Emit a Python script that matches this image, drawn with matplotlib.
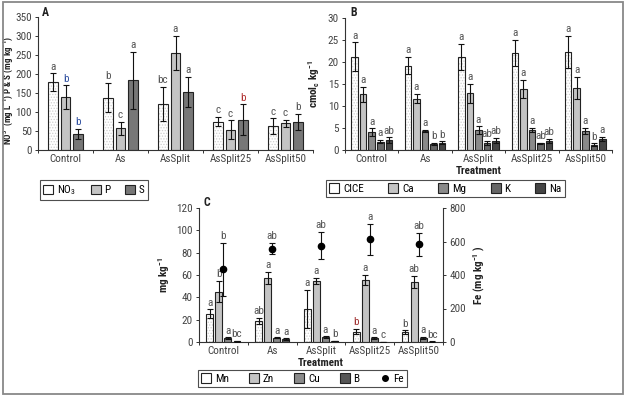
import matplotlib
matplotlib.use("Agg")
import matplotlib.pyplot as plt
import matplotlib.font_manager as fm
import numpy as np
from matplotlib.patches import Patch, Rectangle
from matplotlib.lines import Line2D

# pick a condensed sans if one is installed
_entries = fm.fontManager.ttflist
_cond = sorted({f.name for f in _entries if ("Narrow" in f.name or "Condensed" in f.name)
                and f.weight in (400, "normal", "regular")})
_stretch = sorted({f.name for f in _entries if str(f.stretch) in ("condensed", "semi-condensed", "extra-condensed")})
FAM = None
for pref in ["Liberation Sans Narrow", "Roboto Condensed", "Open Sans Condensed", "Noto Sans Condensed"]:
    if pref in _cond:
        FAM = pref
        break
if FAM is None and _cond:
    FAM = _cond[0]
STRETCH = "normal"
if FAM is None and _stretch:
    FAM = _stretch[0]
    STRETCH = "condensed"
if FAM is None:
    FAM = "Liberation Sans"
    SCALE = 0.82
else:
    SCALE = 1.0
plt.rcParams['font.family'] = [FAM, 'Liberation Sans', 'DejaVu Sans']
plt.rcParams['font.stretch'] = STRETCH
plt.rcParams['mathtext.fontset'] = 'custom'
plt.rcParams['mathtext.rm'] = FAM
plt.rcParams['mathtext.it'] = FAM
plt.rcParams['mathtext.bf'] = FAM + ':bold'
plt.rcParams['mathtext.sf'] = FAM
plt.rcParams['mathtext.default'] = 'regular'
plt.rcParams['hatch.linewidth'] = 0.6

treatments = ["Control", "As", "AsSplit", "AsSplit25", "AsSplit50"]

# Panel A
a_series = ["NO$_3$", "P", "S"]
a_vals = [[178, 138, 122, 75, 62],
          [139, 57, 256, 53, 70],
          [43, 184, 153, 80, 74]]
a_errs = [[24, 39, 45, 13, 21],
          [31, 18, 45, 25, 10],
          [13, 75, 40, 40, 21]]
a_lets = [["a", "b", "bc", "c", "c"],
          ["b", "c", "a", "c", "c"],
          ["b", "a", "a", "b", "b"]]
a_letcol = [["#555", "#555", "#555", "#555", "#555"],
            ["#3050a0", "#555", "#555", "#555", "#555"],
            ["#3050a0", "#555", "#555", "#b03030", "#555"]]

# Panel B
b_series = ["CICE", "Ca", "Mg", "K", "Na"]
b_vals = [[21.2, 19.2, 21.2, 22.1, 22.3],
          [12.7, 11.7, 12.9, 13.9, 14.2],
          [4.0, 4.3, 4.5, 4.6, 4.3],
          [1.9, 1.4, 1.6, 1.5, 1.2],
          [2.3, 1.7, 2.1, 2.1, 2.5]]
b_errs = [[3.3, 2.0, 3.0, 2.9, 3.7],
          [1.7, 1.0, 2.2, 2.0, 2.5],
          [0.9, 0.3, 0.9, 0.4, 0.7],
          [0.4, 0.2, 0.5, 0.1, 0.3],
          [0.6, 0.3, 0.6, 0.5, 0.5]]
b_lets = [["a", "a", "a", "a", "a"],
          ["a", "a", "a", "a", "a"],
          ["a", "a", "a", "a", "a"],
          ["a", "b", "ab", "ab", "b"],
          ["ab", "b", "ab", "ab", "a"]]

# Panel C
c_series = ["Mn", "Zn", "Cu", "B"]
c_vals = [[25.5, 19.0, 29.5, 9.2, 8.8],
          [45.0, 57.6, 54.8, 55.5, 53.5],
          [3.5, 3.8, 4.4, 3.7, 3.6],
          [0.6, 2.6, 1.0, 0.3, 0.4]]
c_errs = [[3.8, 2.6, 17.0, 2.4, 1.6],
          [9.5, 5.5, 2.5, 4.8, 5.5],
          [0.6, 0.4, 0.8, 0.6, 1.0],
          [0.2, 0.6, 0.3, 0.1, 0.2]]
c_lets = [["a", "ab", "a", "b", "b"],
          ["b", "a", "a", "a", "ab"],
          ["a", "a", "a", "a", "a"],
          ["bc", "a", "b", "c", "bc"]]
fe_vals = [434, 558, 576, 612, 583]
fe_errs = [160, 35, 80, 95, 68]
fe_lets = ["b", "ab", "ab", "a", "ab"]

W, H = 627, 397
fig = plt.figure(figsize=(W / 100, H / 100), dpi=100)

def axrect(x0, y0, x1, y1):
    return [x0 / W, 1 - y1 / H, (x1 - x0) / W, (y1 - y0) / H]

LETC = "#555555"
FS = 8.0 * SCALE
fills = {
    0: dict(fc="white", hatch="......", hc="#cfcfcf"),
    1: dict(fc="#c4c4c4"),
    2: dict(fc="#8a8a8a"),
    3: dict(fc="#666666"),
    4: dict(fc="#444444"),
}

def draw_bar(ax, x, v, w, style, ec="#222"):
    if "hatch" in style:
        ax.bar(x, v, w, color="white", edgecolor=style["hc"], hatch=style["hatch"], lw=0, zorder=2)
        ax.bar(x, v, w, fill=False, edgecolor=ec, lw=0.8, zorder=3)
    else:
        ax.bar(x, v, w, color=style["fc"], edgecolor=ec, lw=0.8, zorder=2)

def style_ax(ax, ymax, step):
    for s in ["top", "right"]:
        ax.spines[s].set_visible(False)
    for s in ["left", "bottom"]:
        ax.spines[s].set_color("#333")
        ax.spines[s].set_linewidth(0.8)
    ax.set_xlim(-0.5, 4.5)
    ax.set_ylim(0, ymax)
    ax.set_yticks(np.arange(0, ymax + step / 2, step))
    ax.set_xticks(np.arange(-0.5, 5, 1.0))
    ax.set_xticklabels([])
    ax.set_xticks(np.arange(5), minor=True)
    ax.set_xticklabels(treatments, minor=True)
    ax.tick_params(axis="x", which="major", length=2.5, width=0.7, color="#333")
    ax.tick_params(axis="x", which="minor", length=0, labelsize=FS, labelcolor="#444", pad=3)
    ax.tick_params(axis="y", length=2.5, width=0.7, color="#333", labelsize=FS, labelcolor="#444", pad=2)

def letter(ax, x, y, t, c=LETC):
    ax.annotate(t, (x, y), xytext=(0, 1.2), textcoords="offset points",
                ha="center", va="bottom", fontsize=FS, color=c, zorder=5)

def errb(ax, x, v, e):
    ax.errorbar(x, v, yerr=e, fmt="none", ecolor="#111", elinewidth=0.8, capsize=2.2, capthick=0.8, zorder=4)

# ---- A
axA = fig.add_axes(axrect(38, 17, 313, 150))
style_ax(axA, 350, 50)
spA, wA = 0.227, 0.165
for i in range(3):
    for j in range(5):
        x = j + (i - 1) * spA
        draw_bar(axA, x, a_vals[i][j], wA, fills[0] if i == 0 else (dict(fc="#c4c4c4") if i == 1 else dict(fc="#777777")))
        errb(axA, x, a_vals[i][j], a_errs[i][j])
        letter(axA, x, a_vals[i][j] + a_errs[i][j], a_lets[i][j], a_letcol[i][j])
axA.set_ylabel(r"NO$^{3-}$(mg L$^{-1}$) P & S (mg kg$^{-1}$)", fontsize=FS - 1.5, fontweight="bold", color="#222")
axA.yaxis.set_label_coords(-22.5 / 275, 0.45)
fig.text(42 / W, 1 - 12 / H, "A", fontsize=FS + 0.5, fontweight="bold", color="#222", va="center")
hA = [Patch(facecolor="white", edgecolor="#222", lw=0.8),
      Patch(facecolor="#c4c4c4", edgecolor="#222", lw=0.8),
      Patch(facecolor="#777777", edgecolor="#222", lw=0.8)]
legA = fig.legend(hA, a_series, loc="upper left", bbox_to_anchor=(40 / W, 1 - 180 / H), ncol=3,
                  fontsize=FS, frameon=True, fancybox=False, edgecolor="#222",
                  handlelength=0.9, handleheight=0.9, handletextpad=0.35, columnspacing=1.3,
                  borderpad=0.3, borderaxespad=0)
legA.get_frame().set_linewidth(0.8)

# ---- B
axB = fig.add_axes(axrect(345, 18, 612, 150))
style_ax(axB, 30, 5)
spB, wB = 0.16, 0.122
for i in range(5):
    for j in range(5):
        x = j + (i - 2) * spB
        draw_bar(axB, x, b_vals[i][j], wB, fills[i])
        errb(axB, x, b_vals[i][j], b_errs[i][j])
        letter(axB, x, b_vals[i][j] + b_errs[i][j], b_lets[i][j])
axB.set_ylabel("cmol$_c$ kg$^{-1}$", fontsize=FS, fontweight="bold", color="#222", labelpad=4)
axB.set_xlabel("Treatment", fontsize=FS, fontweight="bold", color="#222", labelpad=1)
fig.text(350 / W, 1 - 12 / H, "B", fontsize=FS + 0.5, fontweight="bold", color="#222", va="center")
hB = [Patch(facecolor="white", edgecolor="#222", lw=0.8)] + \
     [Patch(facecolor=fills[k]["fc"], edgecolor="#222", lw=0.8) for k in range(1, 5)]
legB = fig.legend(hB, b_series, loc="upper left", bbox_to_anchor=(326 / W, 1 - 180 / H), ncol=5,
                  fontsize=FS, frameon=True, fancybox=False, edgecolor="#222",
                  handlelength=0.9, handleheight=0.9, handletextpad=0.35, columnspacing=2.2,
                  borderpad=0.3, borderaxespad=0)
legB.get_frame().set_linewidth(0.8)

# ---- C
axC = fig.add_axes(axrect(199, 208, 443, 342))
style_ax(axC, 120, 20)
spC, wC = 0.185, 0.14
cfill = [fills[0], fills[1], fills[2], dict(fc="#555555")]
for i in range(4):
    for j in range(5):
        x = j + (i - 1.5) * spC
        draw_bar(axC, x, c_vals[i][j], wC, cfill[i])
        errb(axC, x, c_vals[i][j], c_errs[i][j])
        col = "#a03030" if (i == 0 and j == 3) else LETC
        letter(axC, x, c_vals[i][j] + c_errs[i][j], c_lets[i][j], col)
axC.set_ylabel("mg kg$^{-1}$", fontsize=FS, fontweight="bold", color="#222", labelpad=3)
axC.set_xlabel("Treatment", fontsize=FS, fontweight="bold", color="#222", labelpad=1)
axF = axC.twinx()
axF.set_xlim(-0.5, 4.5)
axF.set_ylim(0, 800)
axF.set_yticks(np.arange(0, 801, 200))
for s in ["top", "left", "bottom"]:
    axF.spines[s].set_visible(False)
axF.spines["right"].set_color("#333")
axF.spines["right"].set_linewidth(0.8)
axF.tick_params(axis="y", length=2.5, width=0.7, color="#333", labelsize=FS, labelcolor="#444", pad=2)
xs = np.arange(5)
axF.errorbar(xs, fe_vals, yerr=fe_errs, fmt="o", color="black", ms=4.5, ecolor="#111",
             elinewidth=0.8, capsize=2.2, capthick=0.8, zorder=5)
for j in range(5):
    letter(axF, xs[j], fe_vals[j] + fe_errs[j], fe_lets[j])
axF.set_ylabel("Fe (mg kg$^{-1}$ )", fontsize=FS, fontweight="bold", color="#222", labelpad=4)
fig.text(203 / W, 1 - 203 / H, "C", fontsize=FS + 0.5, fontweight="bold", color="#222", va="center")
hC = [Patch(facecolor="white", edgecolor="#222", lw=0.8),
      Patch(facecolor="#c4c4c4", edgecolor="#222", lw=0.8),
      Patch(facecolor="#8a8a8a", edgecolor="#222", lw=0.8),
      Patch(facecolor="#555555", edgecolor="#222", lw=0.8),
      Line2D([], [], marker="o", color="black", ls="none", ms=4)]
legC = fig.legend(hC, c_series + ["Fe"], loc="upper left", bbox_to_anchor=(198 / W, 1 - 370 / H), ncol=5,
                  fontsize=FS, frameon=True, fancybox=False, edgecolor="#222",
                  handlelength=0.9, handleheight=0.9, handletextpad=0.35, columnspacing=1.8,
                  borderpad=0.3, borderaxespad=0)
legC.get_frame().set_linewidth(0.8)

# outer frame
fig.patches.append(Rectangle((3 / W, 1 - 394 / H), 620 / W, 392 / H, transform=fig.transFigure,
                             fill=False, edgecolor="#888", lw=1.3))

fig.savefig("out.png", dpi=100)
